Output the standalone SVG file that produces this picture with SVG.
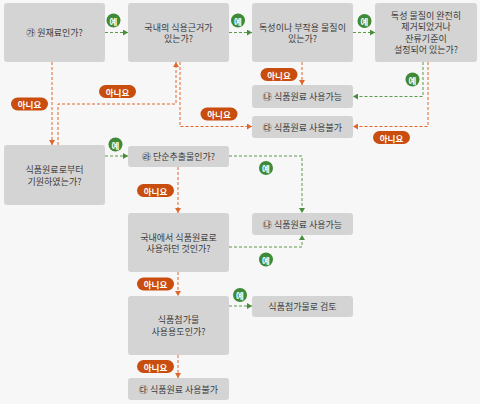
<svg xmlns="http://www.w3.org/2000/svg" width="480" height="404" viewBox="0 0 480 404">
<defs>
<style>
.n rect{fill:#d4d4d4;}
.n text,.t{font-family:"Noto Sans CJK KR","Noto Sans",sans-serif;font-size:9px;fill:#3c3c3c;text-anchor:middle;dominant-baseline:central;}
.g{fill:none;stroke:#5e9a48;stroke-width:1;stroke-dasharray:3 2;}
.o{fill:none;stroke:#e0662a;stroke-width:1;stroke-dasharray:3 2;}
.yes circle{fill:#3f8a36;}
.no rect{fill:#c94d0e;}
.yes text,.no text{font-family:"Noto Sans CJK KR","Noto Sans",sans-serif;font-size:8.5px;font-weight:bold;fill:#fff;text-anchor:middle;dominant-baseline:central;}
</style>
<marker id="ag" markerWidth="6" markerHeight="6" refX="5" refY="3" orient="auto" markerUnits="userSpaceOnUse"><path d="M0,0 L5,3 L0,6 Z" fill="#4a8c3c"/></marker>
<marker id="ao" markerWidth="6" markerHeight="6" refX="5" refY="3" orient="auto" markerUnits="userSpaceOnUse"><path d="M0,0 L5,3 L0,6 Z" fill="#e0662a"/></marker>
</defs>
<rect width="480" height="404" fill="#f7f7f7"/>

<g id="connectors">
<path class="g" d="M105,32.5 H128" marker-end="url(#ag)"/>
<path class="g" d="M229,32.5 H252" marker-end="url(#ag)"/>
<path class="g" d="M353,32.5 H375" marker-end="url(#ag)"/>
<path class="o" d="M302,62 V85" marker-end="url(#ao)"/>
<path class="g" d="M423,62 V96.5 H353" marker-end="url(#ag)"/>
<path class="o" d="M428,62 V126.5 H353" marker-end="url(#ao)"/>
<path class="o" d="M180,62 V126.5 H252" marker-end="url(#ao)"/>
<path class="o" d="M52,62 V145" marker-end="url(#ao)"/>
<path class="o" d="M58,145 V104 H176 V62" marker-end="url(#ao)"/>
<path class="g" d="M105,156 H128" marker-end="url(#ag)"/>
<path class="g" d="M229,156 H302 V213" marker-end="url(#ag)"/>
<path class="o" d="M178,167 V213" marker-end="url(#ao)"/>
<path class="g" d="M229,247 H302 V235" marker-end="url(#ag)"/>
<path class="o" d="M178,272 V296" marker-end="url(#ao)"/>
<path class="g" d="M229,306 H252" marker-end="url(#ag)"/>
<path class="o" d="M178,355 V378" marker-end="url(#ao)"/>
</g>

<g id="badges">
<g class="yes"><circle cx="113.5" cy="20.5" r="7"/><text x="113.5" y="20.5">예</text></g>
<g class="yes"><circle cx="238" cy="20.5" r="7"/><text x="238" y="20.5">예</text></g>
<g class="yes"><circle cx="364.5" cy="21" r="7"/><text x="364.5" y="21">예</text></g>
<g class="yes"><circle cx="412.5" cy="79.5" r="7"/><text x="412.5" y="79.5">예</text></g>
<g class="yes"><circle cx="115.5" cy="144.5" r="7"/><text x="115.5" y="144.5">예</text></g>
<g class="yes"><circle cx="266" cy="168" r="7"/><text x="266" y="168">예</text></g>
<g class="yes"><circle cx="266" cy="259.5" r="7"/><text x="266" y="259.5">예</text></g>
<g class="yes"><circle cx="240" cy="295" r="7"/><text x="240" y="295">예</text></g>
<g class="no"><rect x="11" y="97.5" width="37" height="13" rx="6.5"/><text x="29.5" y="104">아니요</text></g>
<g class="no"><rect x="99" y="85" width="37" height="13" rx="6.5"/><text x="117.5" y="91.5">아니요</text></g>
<g class="no"><rect x="200.5" y="107.5" width="37" height="13" rx="6.5"/><text x="219" y="114">아니요</text></g>
<g class="no"><rect x="260.5" y="68" width="37" height="13" rx="6.5"/><text x="279" y="74.5">아니요</text></g>
<g class="no"><rect x="373" y="131" width="37" height="13" rx="6.5"/><text x="391.5" y="137.5">아니요</text></g>
<g class="no"><rect x="137" y="184" width="37" height="13" rx="6.5"/><text x="155.5" y="190.5">아니요</text></g>
<g class="no"><rect x="137" y="277.5" width="37" height="13" rx="6.5"/><text x="155.5" y="284">아니요</text></g>
<g class="no"><rect x="137" y="360" width="37" height="13" rx="6.5"/><text x="155.5" y="366.5">아니요</text></g>
</g>

<g id="nodeA" class="n"><rect x="4" y="3" width="101" height="59" rx="3"/><text x="54.5" y="32.5">㉮ 원재료인가?</text></g>
<g id="nodeB" class="n"><rect x="128" y="3" width="101" height="59" rx="3"/><text x="178.5" y="27">국내의 식용근거가</text><text x="178.5" y="38.5">있는가?</text></g>
<g id="nodeC" class="n"><rect x="252" y="3" width="101" height="59" rx="3"/><text x="302.5" y="27">독성이나 부작용 물질이</text><text x="302.5" y="38.5">있는가?</text></g>
<g id="nodeD" class="n"><rect x="375" y="3" width="102" height="59" rx="3"/><text x="426" y="15">독성 물질이 완전히</text><text x="426" y="26.5">제거되었거나</text><text x="426" y="38">잔류기준이</text><text x="426" y="49.5">설정되어 있는가?</text></g>
<g id="nodeE" class="n"><rect x="252" y="85" width="101" height="23" rx="3"/><text x="302.5" y="96.5">㉯ 식품원료 사용가능</text></g>
<g id="nodeF" class="n"><rect x="252" y="116" width="101" height="22" rx="3"/><text x="302.5" y="127">㉰ 식품원료 사용불가</text></g>
<g id="nodeG" class="n"><rect x="4" y="145" width="101" height="60" rx="3"/><text x="54.5" y="169">식품원료로부터</text><text x="54.5" y="181">기원하였는가?</text></g>
<g id="nodeH" class="n"><rect x="128" y="146" width="101" height="21" rx="3"/><text x="178.5" y="156.5">㉱ 단순추출물인가?</text></g>
<g id="nodeI" class="n"><rect x="128" y="213" width="101" height="59" rx="3"/><text x="178.5" y="237">국내에서 식품원료로</text><text x="178.5" y="248.5">사용하던 것인가?</text></g>
<g id="nodeJ" class="n"><rect x="252" y="213" width="101" height="22" rx="3"/><text x="302.5" y="224">㉯ 식품원료 사용가능</text></g>
<g id="nodeK" class="n"><rect x="128" y="296" width="101" height="59" rx="3"/><text x="178.5" y="319.5">식품첨가물</text><text x="178.5" y="331.5">사용용도인가?</text></g>
<g id="nodeL" class="n"><rect x="252" y="296" width="101" height="21" rx="3"/><text x="302.5" y="306.5">식품첨가물로 검토</text></g>
<g id="nodeM" class="n"><rect x="128" y="378" width="101" height="22" rx="3"/><text x="178.5" y="389">㉰ 식품원료 사용불가</text></g>
</svg>
